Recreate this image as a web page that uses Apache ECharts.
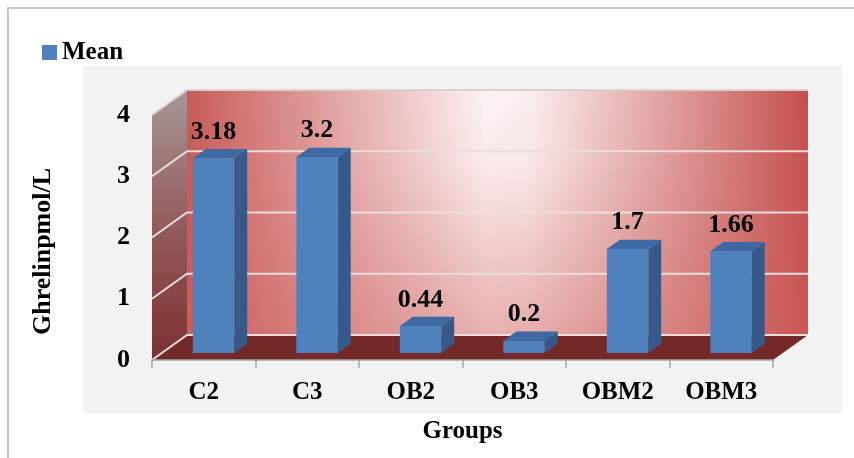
<!DOCTYPE html>
<html>
<head>
<meta charset="utf-8">
<script src="https://cdn.jsdelivr.net/npm/echarts@6/dist/echarts.min.js"></script>
<style>
  html, body { margin: 0; padding: 0; background: #fff; }
  #chart { width: 854px; height: 458px; }
</style>
</head>
<body>
<div id="chart"></div>
<script>
const groups = ['C2', 'C3', 'OB2', 'OB3', 'OBM2', 'OBM3']
const meanValues = [3.18, 3.2, 0.44, 0.2, 1.7, 1.66]
const yTicks = [0, 1, 2, 3, 4]

// depth of the 3d box (back wall offset from the front plane)
const DX = 35
const DY = -25
const F0 = 0.28 // bar front at this depth fraction
const F1 = 0.65 // bar back
const FONT = '"Liberation Serif", "Times New Roman", serif'

let chart = echarts.init(document.getElementById('chart'))

function renderWalls(params, api) {
  const cs = params.coordSys
  const x0 = cs.x
  const x1 = cs.x + cs.width
  const yTop = api.coord([0, 4])[1]
  const yBot = api.coord([0, 0])[1]
  const children = []
  // back wall
  children.push({
    type: 'rect',
    shape: { x: x0 + DX, y: yTop + DY, width: x1 - x0, height: yBot - yTop },
    style: {
      fill: new echarts.graphic.LinearGradient(0, 0, 1, 0, [
        { offset: 0, color: '#c85b59' },
        { offset: 0.48, color: '#fcf2f2' },
        { offset: 0.55, color: '#fbeeee' },
        { offset: 1, color: '#c4504e' },
      ]),
    },
  })
  children.push({
    type: 'rect',
    shape: { x: x0 + DX, y: yTop + DY, width: x1 - x0, height: yBot - yTop },
    style: {
      fill: new echarts.graphic.LinearGradient(0, 0, 0, 1, [
        { offset: 0, color: 'rgba(205,95,92,0)' },
        { offset: 0.3, color: 'rgba(205,95,92,0.05)' },
        { offset: 1, color: 'rgba(205,95,92,0.45)' },
      ]),
    },
  })
  // left side wall
  children.push({
    type: 'polygon',
    shape: { points: [[x0, yTop], [x0 + DX, yTop + DY], [x0 + DX, yBot + DY], [x0, yBot]] },
    style: {
      fill: new echarts.graphic.LinearGradient(0, 0, 0, 1, [
        { offset: 0, color: '#a89696' },
        { offset: 0.5, color: '#945c5c' },
        { offset: 1, color: '#7c3030' },
      ]),
    },
  })
  // floor
  children.push({
    type: 'polygon',
    shape: { points: [[x0, yBot], [x0 + DX, yBot + DY], [x1 + DX, yBot + DY], [x1, yBot]] },
    style: { fill: '#722927' },
  })
  // grid lines on back and side walls
  yTicks.forEach((v) => {
    const y = api.coord([0, v])[1]
    children.push({
      type: 'polyline',
      shape: { points: [[x0, y], [x0 + DX, y + DY], [x1 + DX, y + DY]] },
      style: { stroke: v === 4 ? '#d9d2d2' : '#ecdcdc', lineWidth: 2, fill: null },
    })
  })
  return { type: 'group', children: children }
}

function renderBar(params, api) {
  const idx = api.value(0)
  const val = api.value(1)
  const base = api.coord([idx, 0])
  const top = api.coord([idx, val])
  const band = api.size([1, 0])[0]
  const w = band * 0.4
  const d = F1 - F0
  const xl = base[0] - w / 2 + F0 * DX
  const xr = xl + w
  const yb = base[1] + F0 * DY
  const yt = top[1] + F0 * DY
  const ddx = d * DX
  const ddy = d * DY
  return {
    type: 'group',
    children: [
      {
        type: 'polygon',
        shape: { points: [[xr, yt], [xr + ddx, yt + ddy], [xr + ddx, yb + ddy], [xr, yb]] },
        style: { fill: '#36598a' },
      },
      {
        type: 'polygon',
        shape: { points: [[xl, yt], [xr, yt], [xr + ddx, yt + ddy], [xl + ddx, yt + ddy]] },
        style: { fill: '#3f69a2' },
      },
      {
        type: 'rect',
        shape: { x: xl, y: yt, width: w, height: yb - yt },
        style: { fill: '#4f81bd' },
      },
      {
        type: 'text',
        style: {
          x: xl + w / 2,
          y: top[1] + F1 * DY - 17,
          text: String(val),
          align: 'center',
          verticalAlign: 'middle',
          font: 'bold 26px ' + FONT,
          fill: '#000',
        },
      },
    ],
  }
}

let option = {
  animation: false,
  backgroundColor: '#fff',
  graphic: [
    {
      type: 'rect',
      shape: { x: 8, y: 8, width: 900, height: 500 },
      style: { fill: '#fff', stroke: '#c6c6c6', lineWidth: 2 },
      z: -10,
    },
    {
      type: 'rect',
      shape: { x: 83, y: 66, width: 759, height: 347 },
      style: { fill: '#f2f2f2' },
      z: -9,
    },
  ],
  legend: {
    left: 37,
    top: 35,
    itemWidth: 15,
    itemHeight: 15,
    itemGap: 5,
    textStyle: { fontFamily: FONT, fontWeight: 'bold', fontSize: 25, color: '#000' },
    data: [{ name: 'Mean', icon: 'rect', itemStyle: { color: '#4f81bd' } }],
  },
  grid: { left: 152, right: 81, top: 115, bottom: 98 },
  xAxis: {
    type: 'category',
    data: groups,
    name: 'Groups',
    nameLocation: 'middle',
    nameGap: 59,
    nameTextStyle: { fontFamily: FONT, fontWeight: 'bold', fontSize: 25, color: '#000' },
    axisLine: { show: true, lineStyle: { color: '#a6a6a6', width: 1.5 } },
    axisTick: { show: true, length: 8, lineStyle: { color: '#a6a6a6', width: 1.5 } },
    axisLabel: { margin: 20, fontFamily: FONT, fontWeight: 'bold', fontSize: 25, color: '#000' },
    splitLine: { show: false },
    z: 10,
  },
  yAxis: {
    type: 'value',
    min: 0,
    max: 4,
    interval: 1,
    name: 'Ghrelinpmol/L',
    nameLocation: 'middle',
    nameGap: 96,
    nameTextStyle: {
      fontFamily: FONT,
      fontWeight: 'bold',
      fontSize: 26,
      color: '#000',
      padding: [0, 28, 0, 0],
    },
    axisLine: { show: false },
    axisTick: { show: false },
    axisLabel: { margin: 22, fontFamily: FONT, fontWeight: 'bold', fontSize: 26, color: '#000' },
    splitLine: { show: false },
  },
  series: [
    {
      name: 'walls',
      type: 'custom',
      renderItem: renderWalls,
      data: [[0, 0]],
      silent: true,
      z: 1,
    },
    {
      name: 'Mean',
      type: 'custom',
      renderItem: renderBar,
      itemStyle: { color: '#4f81bd' },
      data: meanValues.map((v, i) => [i, v]),
      z: 5,
    },
  ],
}
chart.setOption(option)
window.addEventListener('resize', () => {
  chart.resize()
})
</script>
</body>
</html>
